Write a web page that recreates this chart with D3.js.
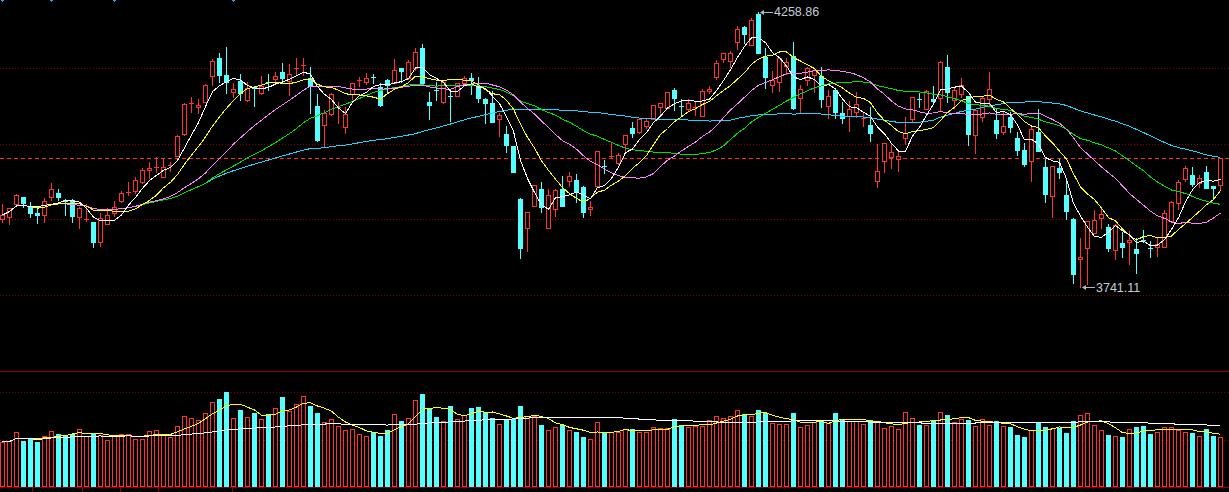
<!DOCTYPE html>
<html lang="zh-CN">
<head>
<meta charset="UTF-8">
<title>K线图</title>
<script src="https://d3js.org/d3.v7.min.js"></script>
<style>
  html, body { margin: 0; padding: 0; background: #000; overflow: hidden; }
  svg { display: block; }
  text { font-family: "Liberation Sans", Arial, sans-serif; }
</style>
</head>
<body>
<div id="chart"></div>
<script>
// daily bars, oldest first
const openP = [
  3868.4,3872.2,3896.7,3909.9,3893.0,3879.7,3876.0,3909.9,3917.5,3904.3,
  3904.3,3872.2,3868.4,3862.8,3825.0,3859.0,3879.7,3902.4,3919.3,3921.2,
  3938.2,3960.8,3966.5,3947.6,3970.3,3987.2,4028.8,4087.2,4079.7,4089.1,
  4138.1,4172.1,4140.0,4108.0,4128.7,4092.9,4117.4,4106.1,4126.8,4132.5,
  4145.7,4128.7,4153.2,4158.9,4134.4,4081.6,4045.7,4066.5,4079.7,4042.0,
  4104.2,4130.6,4126.8,4136.3,4117.4,4130.6,4124.9,4153.2,4134.4,4153.2,
  4191.0,4089.1,4111.7,4089.1,4100.4,4100.4,4124.9,4134.4,4119.3,4094.8,
  4087.2,4057.0,4028.8,4006.1,3906.2,3851.5,3893.0,3925.0,3851.5,3887.3,
  3925.0,3940.1,3942.0,3928.8,3887.3,3930.7,3968.4,3987.2,3974.0,4009.9,
  4040.1,4032.5,4043.8,4057.0,4079.7,4077.8,4111.7,4081.6,4075.9,4079.7,
  4062.7,4109.9,4136.3,4170.2,4166.4,4202.3,4230.6,4196.6,4255.0,4174.0,
  4121.2,4126.8,4157.0,4175.9,4096.7,4130.6,4140.0,4138.1,4081.6,4111.7,
  4068.4,4062.7,4070.2,4058.9,4045.7,3940.1,3977.8,3985.4,3981.6,4021.2,
  4057.0,4094.8,4075.9,4094.8,4096.7,4155.1,4092.9,4104.2,4100.4,4026.9,
  4060.8,4094.8,4055.2,4032.5,4060.8,4021.2,3998.6,3977.8,4032.5,3966.5,
  3911.8,3964.6,3913.7,3868.4,3793.0,3813.7,3842.0,3870.3,3853.3,3810.0,
  3823.2,3825.0,3811.8,3828.8,3813.7,3815.6,3815.6,3864.7,3898.6,3943.9,
  3951.4,3936.3,3957.1,3930.7,3932.6
];
const highP = [
  3896.7,3889.2,3915.6,3909.9,3900.5,3891.1,3908.0,3936.3,3925.0,3906.2,
  3906.2,3891.1,3896.7,3862.8,3879.7,3889.2,3902.4,3921.2,3938.2,3947.6,
  3964.6,3975.9,3985.4,3981.6,3975.9,4026.9,4087.2,4098.5,4094.8,4123.1,
  4170.2,4181.5,4192.9,4124.9,4141.9,4126.8,4119.3,4138.1,4141.9,4145.7,
  4162.7,4160.8,4172.1,4172.1,4155.1,4104.2,4074.0,4106.1,4089.1,4079.7,
  4124.9,4136.3,4143.8,4141.9,4124.9,4132.5,4170.2,4153.2,4168.3,4191.0,
  4198.5,4108.0,4126.8,4130.6,4109.9,4124.9,4138.1,4143.8,4136.3,4096.7,
  4109.9,4068.4,4043.8,4006.1,3908.0,3881.6,3932.6,3938.2,3925.0,3925.0,
  3949.5,3957.1,3953.3,3930.7,3902.4,3996.7,3979.7,4011.8,3992.9,4026.9,
  4051.4,4058.9,4058.9,4083.5,4087.2,4108.0,4115.5,4094.8,4094.8,4089.1,
  4113.6,4119.3,4168.3,4181.5,4185.3,4232.5,4232.5,4247.6,4258.86,4191.0,
  4147.6,4174.0,4172.1,4202.3,4121.2,4155.1,4153.2,4155.1,4111.7,4113.6,
  4089.1,4091.0,4108.0,4070.2,4079.7,4009.9,4011.8,4009.9,3994.8,4060.8,
  4098.5,4106.1,4111.7,4119.3,4166.4,4177.8,4117.4,4134.4,4100.4,4074.0,
  4098.5,4145.7,4075.9,4070.2,4070.2,4032.5,4011.8,4042.0,4075.9,3981.6,
  3968.4,3981.6,3942.0,3870.3,3832.6,3864.7,3885.4,3887.3,3859.0,3859.0,
  3843.9,3845.8,3832.6,3847.7,3826.9,3832.6,3885.4,3902.4,3942.0,3968.4,
  3966.5,3951.4,3968.4,3930.7,3983.5
];
const lowP = [
  3862.8,3859.0,3894.8,3891.1,3872.2,3860.9,3862.8,3904.3,3904.3,3876.0,
  3862.8,3851.5,3864.7,3815.6,3817.5,3859.0,3874.1,3900.5,3913.7,3917.5,
  3936.3,3945.8,3957.1,3947.6,3959.0,3987.2,4026.9,4070.2,4068.4,4089.1,
  4121.2,4126.8,4106.1,4098.5,4092.9,4091.0,4081.6,4104.2,4111.7,4126.8,
  4126.8,4102.3,4140.0,4140.0,4068.4,4015.5,4004.2,4064.6,4049.5,4030.6,
  4094.8,4119.3,4123.1,4124.9,4081.6,4108.0,4124.9,4126.8,4132.5,4149.5,
  4121.2,4057.0,4092.9,4087.2,4053.3,4100.4,4123.1,4104.2,4089.1,4049.5,
  4051.4,4025.0,3994.8,3957.1,3794.8,3808.1,3893.0,3881.6,3851.5,3874.1,
  3893.0,3930.7,3900.5,3872.2,3876.0,3930.7,3955.2,3985.4,3972.2,3992.9,
  4023.1,4030.6,4040.1,4057.0,4064.6,4077.8,4074.0,4064.6,4074.0,4064.6,
  4062.7,4106.1,4132.5,4164.6,4155.1,4189.1,4200.4,4196.6,4181.5,4115.5,
  4108.0,4109.9,4141.9,4075.9,4068.4,4121.2,4108.0,4079.7,4058.9,4058.9,
  4049.5,4034.4,4060.8,4043.8,4015.5,3928.8,3957.1,3964.6,3959.0,4009.9,
  4053.3,4079.7,4075.9,4089.1,4072.1,4089.1,4077.8,4098.5,4008.0,3992.9,
  4053.3,4085.3,4021.2,4028.8,4032.5,3989.1,3968.4,3940.1,3996.7,3900.5,
  3872.2,3945.8,3868.4,3747.7,3741.11,3745.8,3842.0,3851.5,3808.1,3793.0,
  3796.7,3783.5,3766.6,3825.0,3796.7,3798.6,3815.6,3864.7,3887.3,3940.1,
  3930.7,3928.8,3926.9,3906.2,3925.0
];
const closeP = [
  3876.0,3889.2,3913.7,3898.6,3879.7,3876.0,3902.4,3925.0,3909.9,3902.4,
  3874.1,3889.2,3868.6,3825.0,3870.3,3876.0,3891.1,3917.5,3919.5,3942.0,
  3960.8,3964.6,3966.7,3966.5,3970.5,4025.0,4085.3,4087.4,4083.5,4121.2,
  4166.4,4140.0,4126.8,4113.6,4106.1,4115.5,4115.5,4119.3,4126.6,4138.1,
  4134.4,4141.9,4153.4,4159.1,4119.3,4017.4,4068.4,4104.2,4079.9,4066.5,
  4124.9,4130.8,4134.4,4136.1,4083.5,4121.2,4149.5,4147.6,4164.6,4183.4,
  4124.9,4083.5,4111.5,4126.8,4100.2,4124.9,4134.4,4130.6,4096.7,4087.2,
  4051.4,4064.6,4008.0,3957.1,3813.7,3881.6,3932.6,3891.1,3913.7,3923.1,
  3893.0,3949.5,3919.3,3881.6,3891.1,3996.7,3968.2,3987.4,3989.1,4026.9,
  4030.6,4057.0,4053.3,4083.5,4087.2,4108.0,4096.7,4081.4,4087.2,4079.9,
  4109.9,4113.6,4162.7,4181.5,4181.5,4226.8,4217.4,4243.8,4181.5,4136.3,
  4130.6,4172.1,4164.6,4077.8,4113.6,4153.2,4149.5,4094.8,4100.4,4070.2,
  4058.9,4075.9,4085.3,4059.1,4030.6,3959.0,4011.8,3994.8,3987.2,4030.6,
  4098.5,4094.6,4109.9,4091.0,4164.6,4108.0,4111.7,4121.2,4028.8,4074.0,
  4096.7,4113.6,4030.6,4043.8,4042.0,3998.6,3972.2,4038.2,3996.7,3915.6,
  3968.4,3957.1,3883.5,3764.7,3796.7,3864.7,3866.5,3877.9,3813.7,3857.1,
  3815.6,3828.8,3804.3,3828.6,3813.5,3821.3,3879.7,3900.5,3938.2,3964.6,
  3934.4,3945.8,3926.9,3926.9,3983.5
];
const volume = [
  45,46,55,46,49,45,51,56,53,52, 53,58,51,53,52,47,52,53,53,48,
  48,56,57,52,50,61,71,69,67,74, 85,88,95,69,77,70,74,68,72,79,
  90,76,83,91,81,74,65,68,61,57, 58,53,51,55,51,57,73,66,69,87,
  93,78,70,66,81,68,72,79,80,75, 69,63,68,68,81,71,71,62,57,60,
  62,57,55,50,48,65,55,55,55,58, 58,55,55,60,59,59,68,61,60,61,
  61,67,71,69,71,77,73,71,77,74, 64,63,63,74,60,62,65,67,64,74,
  68,66,66,63,67,66,59,61,58,75, 69,62,62,67,75,72,65,68,67,61,
  68,62,66,61,60,52,50,57,65,60, 59,59,54,66,72,74,62,57,52,51,
  50,58,60,61,53,55,60,60,57,55, 54,51,58,51,50
];
const gridPrices = [4152.6, 4009.3, 3867.8, 3724.5];
const maPeriods = [5, 10, 20, 30, 60];
const volMaPeriods = [5, 60];
const markerIdx = [0, 7, 16, 33];
const dayTicks = [4.25, 11.4, 16.85, 22.3, 32.85];

const maColors = ["#ffffff", "#ffff00", "#ff80ff", "#00e000", "#1ed2ff"];
const volMaColors = ["#ffff00", "#ffffff"];
const UP = "#ff3232", DOWN = "#54ffff", GRID = "#800000";

const W = 1229, H = 492;
const n = closeP.length;

const svg = d3.select("#chart").append("svg")
  .attr("width", W).attr("height", H)
  .style("background", "#000");

const x = d3.scaleBand().domain(d3.range(n)).range([-1.2, -1.2 + n * 7]);
const cx = i => Math.floor(x(i) + x.bandwidth() / 2);

const y = d3.scaleLinear()
  .domain([d3.min(lowP), d3.max(highP)])
  .range([286.5, 12]);
const py = v => Math.round(y(v));

const vy = d3.scaleLinear().domain([0, d3.max(volume)]).range([487, 392]);

// moving average with a partial window at the start
function ma(arr, p) {
  return arr.map((_, i) => {
    const s = arr.slice(Math.max(0, i - p + 1), i + 1);
    return d3.mean(s);
  });
}

// grid
const grid = svg.append("g").attr("shape-rendering", "crispEdges");
grid.selectAll("line.pg").data(gridPrices).enter().append("line")
  .attr("x1", 0).attr("x2", W)
  .attr("y1", d => py(d) + 0.5).attr("y2", d => py(d) + 0.5)
  .attr("stroke", GRID).attr("stroke-dasharray", "1,2");

grid.selectAll("line.vg").data([d3.max(volume), d3.max(volume) / 2]).enter().append("line")
  .attr("x1", 0).attr("x2", W)
  .attr("y1", d => Math.round(vy(d)) + 0.5).attr("y2", d => Math.round(vy(d)) + 0.5)
  .attr("stroke", GRID).attr("stroke-dasharray", "1,2");

// last close reference
const lastY = py(closeP[n - 1]) + 0.5;
grid.append("line").attr("x1", 0).attr("x2", W).attr("y1", lastY).attr("y2", lastY)
  .attr("stroke", "#ff3030").attr("stroke-dasharray", "4,3");

// panel borders
grid.append("line").attr("x1", 0).attr("x2", W).attr("y1", 371.5).attr("y2", 371.5)
  .attr("stroke", "#8c0000");
grid.append("line").attr("x1", 0).attr("x2", W).attr("y1", 487.5).attr("y2", 487.5)
  .attr("stroke", "#8c0000");
grid.selectAll("line.dt").data(dayTicks).enter().append("line")
  .attr("x1", d => Math.round(x(0) + x.bandwidth() / 2 + d * x.step()) + 0.5)
  .attr("x2", d => Math.round(x(0) + x.bandwidth() / 2 + d * x.step()) + 0.5)
  .attr("y1", 488).attr("y2", H)
  .attr("stroke", "#8c0000");

// small event markers on the top edge
const mk = svg.append("g").attr("fill", "#2e9fd4").attr("shape-rendering", "crispEdges");
markerIdx.forEach(i => {
  mk.append("rect").attr("x", cx(i) - 1).attr("y", 0).attr("width", 3).attr("height", 1);
  mk.append("rect").attr("x", cx(i)).attr("y", 0).attr("width", 1).attr("height", 2);
});

// candles
const cg = svg.append("g").attr("shape-rendering", "crispEdges");
d3.range(n).forEach(i => {
  const c = cx(i), o = openP[i], cl = closeP[i];
  const up = cl >= o;
  const top = py(Math.max(o, cl)), bot = py(Math.min(o, cl));
  const hi = py(highP[i]), lo = py(lowP[i]);
  if (up) {
    if (hi < top) cg.append("line").attr("x1", c + 0.5).attr("x2", c + 0.5)
      .attr("y1", hi).attr("y2", top).attr("stroke", UP);
    if (lo > bot) cg.append("line").attr("x1", c + 0.5).attr("x2", c + 0.5)
      .attr("y1", bot + 1).attr("y2", lo + 1).attr("stroke", UP);
    if (bot - top < 1) {
      cg.append("line").attr("x1", c - 2).attr("x2", c + 3)
        .attr("y1", top + 0.5).attr("y2", top + 0.5).attr("stroke", UP);
    } else {
      cg.append("rect").attr("x", c - 1.5).attr("y", top + 0.5)
        .attr("width", 4).attr("height", bot - top)
        .attr("fill", "#000").attr("stroke", UP);
    }
  } else {
    cg.append("line").attr("x1", c + 0.5).attr("x2", c + 0.5)
      .attr("y1", hi).attr("y2", lo + 1).attr("stroke", DOWN);
    cg.append("rect").attr("x", c - 2).attr("y", top)
      .attr("width", 5).attr("height", Math.max(1, bot - top + 1))
      .attr("fill", DOWN);
  }
});

// volume bars
const vg = svg.append("g").attr("shape-rendering", "crispEdges");
volume.forEach((v, i) => {
  const c = cx(i), t = Math.round(vy(v));
  if (closeP[i] >= openP[i]) {
    vg.append("rect").attr("x", c - 1.5).attr("y", t + 0.5)
      .attr("width", 4).attr("height", 486 - t)
      .attr("fill", "#000").attr("stroke", UP);
  } else {
    vg.append("rect").attr("x", c - 2).attr("y", t)
      .attr("width", 5).attr("height", 487 - t).attr("fill", DOWN);
  }
});

// moving averages
const lineP = d3.line().x((d, i) => cx(i) + 0.5).y(d => y(d));
maPeriods.slice().reverse().forEach((p, k) => {
  const idx = maPeriods.length - 1 - k;
  svg.append("path").datum(ma(closeP, p))
    .attr("d", lineP).attr("fill", "none")
    .attr("stroke", maColors[idx]).attr("stroke-width", 1)
    .attr("shape-rendering", "crispEdges");
});

const lineV = d3.line().x((d, i) => cx(i) + 0.5).y(d => vy(d));
volMaPeriods.forEach((p, k) => {
  svg.append("path").datum(ma(volume, p))
    .attr("d", lineV).attr("fill", "none")
    .attr("stroke", volMaColors[k]).attr("stroke-width", 1)
    .attr("shape-rendering", "crispEdges");
});

// high / low labels
function extremeLabel(i, v, dy) {
  const c = cx(i), yy = py(v) + 0.5;
  const g = svg.append("g");
  g.append("line").attr("x1", c + 3).attr("x2", c + 15)
    .attr("y1", yy).attr("y2", yy).attr("stroke", "#b8b8b8");
  g.append("path")
    .attr("d", `M${c + 2},${yy} l4,-2.5 l0,5 z`)
    .attr("fill", "#b8b8b8");
  g.append("text").attr("x", c + 16).attr("y", yy + dy)
    .attr("fill", "#c4ccd6").attr("font-size", 12.5)
    .text(v.toFixed(2));
}
const iHigh = d3.maxIndex(highP), iLow = d3.minIndex(lowP);
extremeLabel(iHigh, highP[iHigh], 3);
extremeLabel(iLow, lowP[iLow], 4);
</script>
</body>
</html>
